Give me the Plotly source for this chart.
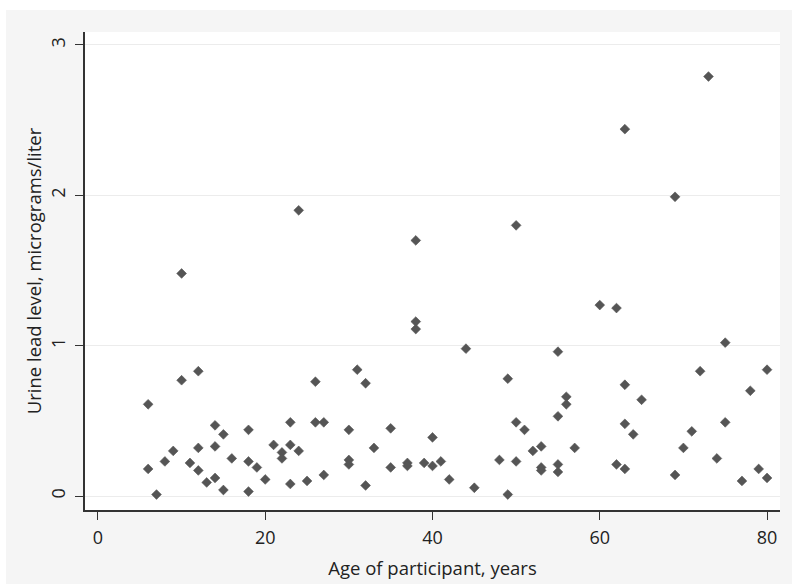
import plotly.graph_objects as go

# Participant age (years) and urine lead level (micrograms/liter)
age = [6, 6, 7, 8, 9, 10, 10, 11, 12, 12, 12, 13, 14, 14, 14, 15, 15, 16,
       18, 18, 18, 19, 20, 21, 22, 22, 23, 23, 23, 24, 24, 25, 26, 26, 27, 27,
       30, 30, 30, 31, 32, 32, 33, 35, 35, 37, 37, 38, 38, 38, 39, 40, 40, 41,
       42, 44, 45, 48, 49, 49, 50, 50, 50, 51, 52, 53, 53, 53, 55, 55, 55, 55,
       56, 56, 57, 60, 62, 62, 63, 63, 63, 63, 64, 65, 69, 69, 70, 71, 72, 73,
       74, 75, 75, 77, 78, 79, 80, 80]
lead = [0.61, 0.18, 0.01, 0.23, 0.30, 1.48, 0.77, 0.22, 0.83, 0.32, 0.17, 0.09,
        0.47, 0.33, 0.12, 0.41, 0.04, 0.25, 0.44, 0.23, 0.03, 0.19, 0.11, 0.34,
        0.29, 0.25, 0.49, 0.34, 0.08, 1.90, 0.30, 0.10, 0.76, 0.49, 0.49, 0.14,
        0.44, 0.24, 0.21, 0.84, 0.75, 0.07, 0.32, 0.45, 0.19, 0.22, 0.20, 1.70,
        1.16, 1.11, 0.22, 0.39, 0.20, 0.23, 0.11, 0.98, 0.055, 0.24, 0.78, 0.01,
        1.80, 0.49, 0.23, 0.44, 0.30, 0.33, 0.19, 0.17, 0.96, 0.53, 0.21, 0.16,
        0.66, 0.61, 0.32, 1.27, 1.25, 0.21, 2.44, 0.74, 0.48, 0.18, 0.41, 0.64,
        1.99, 0.14, 0.32, 0.43, 0.83, 2.79, 0.25, 1.02, 0.49, 0.10, 0.70, 0.18,
        0.84, 0.12]

x_ticks = [0, 20, 40, 60, 80]
y_ticks = [0, 1, 2, 3]

FONT = "Open Sans"
INK = "#333333"
TICK_SIZE = 18
TITLE_SIZE = 18.5

fig = go.Figure(
    go.Scatter(
        x=age, y=lead, mode="markers",
        marker=dict(symbol="diamond", size=7.5, color="#555555",
                    line=dict(width=0.6, color="#555555")),
        hoverinfo="x+y",
    )
)

fig.update_layout(
    width=792, height=584,
    margin=dict(l=85, r=12, t=32, b=74),
    paper_bgcolor="#f5f5f5",
    plot_bgcolor="#ffffff",
    showlegend=False,
    font=dict(family=FONT, size=TICK_SIZE, color="#222222"),
    # thin white frame along the top and left page edges
    shapes=[
        dict(type="rect", xref="paper", yref="paper",
             x0=-85 / 695, x1=(695 + 12) / 695, y0=1 + 22 / 478, y1=1 + 40 / 478,
             fillcolor="#ffffff", line=dict(width=0), layer="below"),
        dict(type="rect", xref="paper", yref="paper",
             x0=-90 / 695, x1=-79 / 695, y0=-80 / 478, y1=1 + 40 / 478,
             fillcolor="#ffffff", line=dict(width=0), layer="below"),
    ],
)

fig.update_xaxes(
    range=[-1.55, 81.55], automargin=False,
    tickvals=x_ticks, ticktext=[str(v) for v in x_ticks],
    ticks="outside", ticklen=8, tickwidth=1.3, tickcolor=INK,
    ticklabelstandoff=3,
    showline=True, linecolor=INK, linewidth=1.5,
    showgrid=False, zeroline=False,
    title=dict(text="Age of participant, years", standoff=14,
               font=dict(family=FONT, size=TITLE_SIZE)),
    tickfont=dict(family=FONT, size=TICK_SIZE),
)
fig.update_yaxes(
    range=[-0.093, 3.086], automargin=False,
    tickvals=y_ticks, ticktext=[str(v) for v in y_ticks],
    tickangle=-90,
    ticks="outside", ticklen=8, tickwidth=1.3, tickcolor=INK,
    ticklabelstandoff=3,
    showline=True, linecolor=INK, linewidth=1.5,
    showgrid=True, gridcolor="#ececec", gridwidth=1.2,
    zeroline=False,
    title=dict(text="Urine lead level, micrograms/liter", standoff=0,
               font=dict(family=FONT, size=TITLE_SIZE)),
    tickfont=dict(family=FONT, size=TICK_SIZE),
)

fig.write_html("out.html")
